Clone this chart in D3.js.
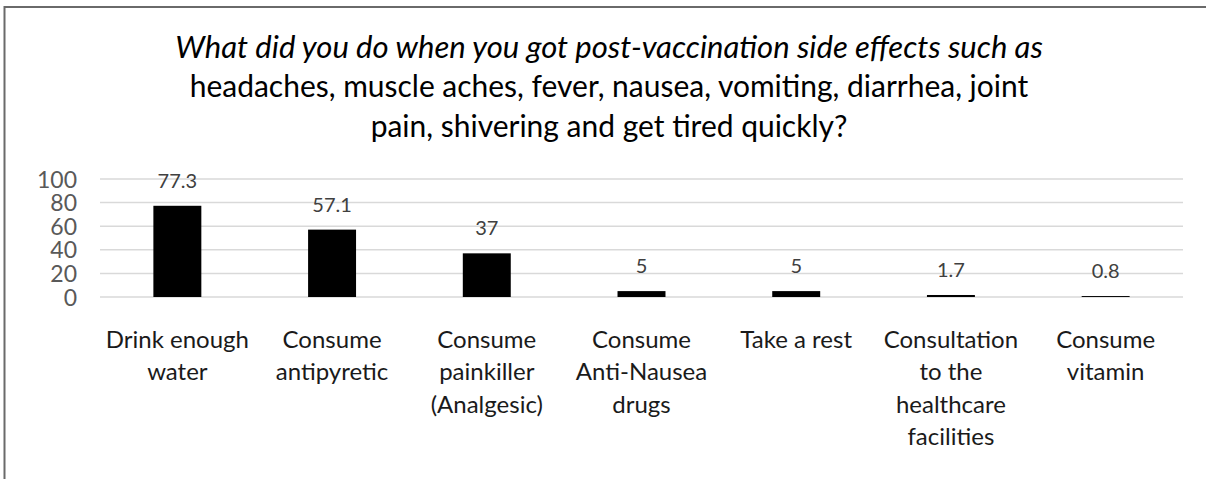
<!DOCTYPE html>
<html>
<head>
<meta charset="utf-8">
<script src="https://cdn.jsdelivr.net/npm/d3@7"></script>
<style>
  html, body { margin: 0; padding: 0; background: #fff; }
  svg { display: block; }
</style>
</head>
<body>
<svg id="chart" width="1206" height="479"></svg>
<script>
const titleLines = [
  "What did you do when you got post-vaccination side effects such as",
  "headaches, muscle aches, fever, nausea, vomiting, diarrhea, joint",
  "pain, shivering and get tired quickly?"
];
const categories = [
  "Drink enough water",
  "Consume antipyretic",
  "Consume painkiller (Analgesic)",
  "Consume Anti-Nausea drugs",
  "Take a rest",
  "Consultation to the healthcare facilities",
  "Consume vitamin"
];
const categoryLines = [
  ["Drink enough", "water"],
  ["Consume", "antipyretic"],
  ["Consume", "painkiller", "(Analgesic)"],
  ["Consume", "Anti-Nausea", "drugs"],
  ["Take a rest"],
  ["Consultation", "to the", "healthcare", "facilities"],
  ["Consume", "vitamin"]
];
const values = [77.3, 57.1, 37, 5, 5, 1.7, 0.8];
const valueLabels = ["77.3", "57.1", "37", "5", "5", "1.7", "0.8"];
const yTicks = [0, 20, 40, 60, 80, 100];

const svg = d3.select("#chart");
const FONT = "Lato, 'Open Sans', sans-serif";

// outer frame
svg.append("rect")
  .attr("x", 4.5).attr("y", 7)
  .attr("width", 1300).attr("height", 600)
  .attr("fill", "none")
  .attr("stroke", "#6a6a6a")
  .attr("stroke-width", 2);

const x = d3.scaleBand()
  .domain(categories)
  .range([100, 1183])
  .paddingInner(0.69)
  .paddingOuter(0.345);

const y = d3.scaleLinear().domain([0, 100]).range([297, 179]);

// gridlines
svg.append("g")
  .selectAll("line")
  .data(yTicks)
  .join("line")
  .attr("x1", 100).attr("x2", 1183)
  .attr("y1", d => y(d)).attr("y2", d => y(d))
  .attr("stroke", "#d9d9d9")
  .attr("stroke-width", 1.5);

// y axis labels
const yAxis = d3.axisLeft(y).tickValues(yTicks).tickSize(0).tickPadding(0);
const yg = svg.append("g").attr("transform", "translate(77,0)").call(yAxis);
yg.select(".domain").remove();
yg.selectAll("text")
  .attr("font-family", FONT)
  .attr("font-size", 23)
  .attr("fill", "#595959")
  .attr("dy", "0.35em");

// bars
svg.append("g")
  .selectAll("rect")
  .data(values)
  .join("rect")
  .attr("x", (d, i) => x(categories[i]))
  .attr("width", x.bandwidth())
  .attr("y", d => y(d))
  .attr("height", d => y(0) - y(d))
  .attr("fill", "#000");

// value labels
svg.append("g")
  .selectAll("text")
  .data(values)
  .join("text")
  .attr("x", (d, i) => x(categories[i]) + x.bandwidth() / 2)
  .attr("y", d => y(d) - 18)
  .attr("text-anchor", "middle")
  .attr("font-family", FONT)
  .attr("font-size", 20)
  .attr("fill", "#404040")
  .text((d, i) => valueLabels[i]);

// category labels
const cg = svg.append("g");
categories.forEach((c, i) => {
  const t = cg.append("text")
    .attr("text-anchor", "middle")
    .attr("font-family", FONT)
    .attr("font-size", 24)
    .attr("fill", "#1a1a1a");
  categoryLines[i].forEach((ln, j) => {
    t.append("tspan")
      .attr("x", x(c) + x.bandwidth() / 2)
      .attr("y", 348 + j * 32.3)
      .text(ln);
  });
});

// title
const tg = svg.append("g");
const titleText = tg.selectAll("text")
  .data(titleLines)
  .join("text")
  .attr("x", 609)
  .attr("y", (d, i) => 58 + i * 39.3)
  .attr("text-anchor", "middle")
  .attr("font-family", FONT)
  .attr("font-size", 100)
  .attr("font-style", (d, i) => i === 0 ? "italic" : "normal")
  .attr("fill", "#000")
  .text(d => d);
// fit: italic line to ~868px, upright lines share a size fitted to ~839px for line 2
const nodes = titleText.nodes();
const w1 = nodes[0].getComputedTextLength();
const w2 = nodes[1].getComputedTextLength();
const s1 = 100 * 868 / w1;
const s2 = 100 * 839 / w2;
titleText.attr("font-size", (d, i) => i === 0 ? s1 : s2);
</script>
</body>
</html>
